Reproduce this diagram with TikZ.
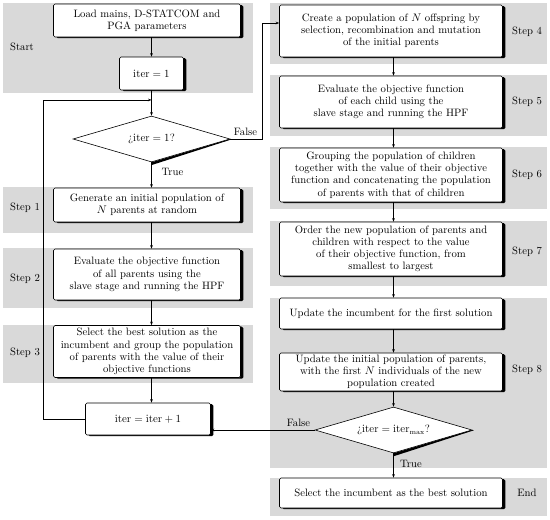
\documentclass[tikz,border=0pt]{standalone}
\usetikzlibrary{shapes.geometric,shadows,arrows.meta,calc}
\begin{document}
\begin{tikzpicture}[x=1pt,y=-1pt,
  every node/.style={font=\fontsize{10.7}{12.2}\selectfont},
  band/.style={fill=black!15, draw=none},
  box/.style={draw, fill=white, rounded corners=1.5pt, align=center, inner sep=2pt,
    line width=0.6pt, drop shadow={shadow xshift=2.8pt, shadow yshift=-1.2pt, fill=black, opacity=1}},
  dec/.style={diamond, draw, fill=white, aspect=3.4, inner sep=0pt, line width=0.6pt,
    minimum width=157pt, minimum height=46pt},
  arr/.style={-{Stealth[length=3.5pt,width=2.6pt]}, line width=0.6pt},
  ln/.style={line width=0.6pt},
  lab/.style={inner sep=1pt},
  steplab/.style={inner sep=0pt}]

\useasboundingbox (0,0) rectangle (550,520);

% bands left
\fill[band] (3,3) rectangle (253,93);
\fill[band] (3,187) rectangle (253,233);
\fill[band] (3,248) rectangle (253,308);
\fill[band] (3,325) rectangle (253,383);
% bands right
\fill[band] (270,3) rectangle (547,64);
\fill[band] (270,75) rectangle (547,136);
\fill[band] (270,147) rectangle (547,209);
\fill[band] (270,221) rectangle (547,286);
\fill[band] (270,298) rectangle (547,468);
\fill[band] (270,478) rectangle (547,516);

% step labels
\node[steplab] (lstart) at (22,47) {Start};
\node[steplab] (l1) at (25,208) {Step 1};
\node[steplab] (l2) at (25,279) {Step 2};
\node[steplab] (l3) at (25,353) {Step 3};
\node[steplab] (l4) at (527,32) {Step 4};
\node[steplab] (l5) at (527,102) {Step 5};
\node[steplab] (l6) at (527,175) {Step 6};
\node[steplab] (l7) at (527,252) {Step 7};
\node[steplab] (l8) at (527,370) {Step 8};
\node[steplab] (lend) at (527,493) {End};

% left column
\node[box, minimum width=187pt, minimum height=33pt] (load) at (147,20.5)
  {Load mains, D-STATCOM and\\PGA parameters};
\node[box, minimum width=64pt, minimum height=33pt] (it1) at (151.5,73.5)
  {$\mathrm{iter} = 1$};
\node[dec] (dec1) at (151.5,139) {¿$\mathrm{iter} = 1$?};
\node[box, minimum width=187pt, minimum height=34pt] (s1) at (147,205)
  {Generate an initial population of\\$N$ parents at random};
\node[box, minimum width=187pt, minimum height=51pt] (s2) at (147,274.5)
  {Evaluate the objective function\\of all parents using the\\slave stage and running the HPF};
\node[box, minimum width=187pt, minimum height=52pt] (s3) at (147,351.5)
  {Select the best solution as the\\incumbent and group the population\\of parents with the value of their\\objective functions};
\node[box, minimum width=125pt, minimum height=32pt] (inc) at (148,419)
  {$\mathrm{iter} = \mathrm{iter} + 1$};

% right column
\node[box, minimum width=223pt, minimum height=52pt] (s4) at (391,31)
  {Create a population of $N$ offspring by\\selection, recombination and mutation\\of the initial parents};
\node[box, minimum width=223pt, minimum height=52pt] (s5) at (391,102)
  {Evaluate the objective function\\of each child using the\\slave stage and running the HPF};
\node[box, minimum width=223pt, minimum height=54pt] (s6) at (391,175)
  {Grouping the population of children\\together with the value of their objective\\function and concatenating the population\\of parents with that of children};
\node[box, minimum width=223pt, minimum height=54pt] (s7) at (391,249)
  {Order the new population of parents and\\children with respect to the value\\of their objective function, from\\smallest to largest};
\node[box, minimum width=223pt, minimum height=31pt] (s8a) at (391,313.5)
  {Update the incumbent for the first solution};
\node[box, minimum width=223pt, minimum height=38pt] (s8b) at (391,372)
  {Update the initial population of parents,\\with the first $N$ individuals of the new\\population created};
\node[dec] (dec2) at (393.5,430) {¿$\mathrm{iter} = \mathrm{iter}_{\mathrm{max}}$?};
\node[box, minimum width=223pt, minimum height=30pt] (send) at (391,493)
  {Select the incumbent as the best solution};

% thick edges of the diamonds
\fill (dec1.east) -- (dec1.south) -- ([xshift=0.6pt,yshift=-2.6pt]dec1.south)
  -- ([xshift=1.6pt,yshift=-0.3pt]dec1.east) -- cycle;
\fill (dec2.east) -- (dec2.south) -- ([xshift=0.6pt,yshift=-2.8pt]dec2.south)
  -- ([xshift=1.6pt,yshift=-0.3pt]dec2.east) -- cycle;

% connectors left
\coordinate (j1) at ($(it1.south)!0.38!(dec1.north)$);
\draw[arr] (load.south -| it1.north) -- (it1.north);
\draw[arr] (it1.south) -- (dec1.north);
\draw[arr] (dec1.south) -- (dec1.south |- s1.north);
\draw[arr] (s1.south -| dec1.south) -- (s2.north -| dec1.south);
\draw[arr] (s2.south -| dec1.south) -- (s3.north -| dec1.south);
\draw[arr] (s3.south -| dec1.south) -- (inc.north -| dec1.south);
\draw[arr] (inc.west) -- ++(-42,0) |- (j1);
\draw[arr] (dec1.east) -- ++(32,0) |- ([yshift=8pt]s4.west);
\node[lab] (f1) at (245.5,132) {False};
\node[lab] (t1) at (172.5,172) {True};

% connectors right
\draw[arr] (s4.south -| dec2.north) -- (s5.north -| dec2.north);
\draw[arr] (s5.south -| dec2.north) -- (s6.north -| dec2.north);
\draw[arr] (s6.south -| dec2.north) -- (s7.north -| dec2.north);
\draw[arr] (s7.south -| dec2.north) -- (s8a.north -| dec2.north);
\draw[arr] (s8a.south -| dec2.north) -- (s8b.north -| dec2.north);
\draw[arr] (s8b.south -| dec2.north) -- (dec2.north);
\draw[arr] (dec2.south) -- (dec2.south |- send.north);
\draw[arr] (dec2.west) -- (dec2.west -| inc.east);
\node[lab] (f2) at (298.5,422.5) {False};
\node[lab] (t2) at (411,464) {True};
\end{tikzpicture}
\end{document}
